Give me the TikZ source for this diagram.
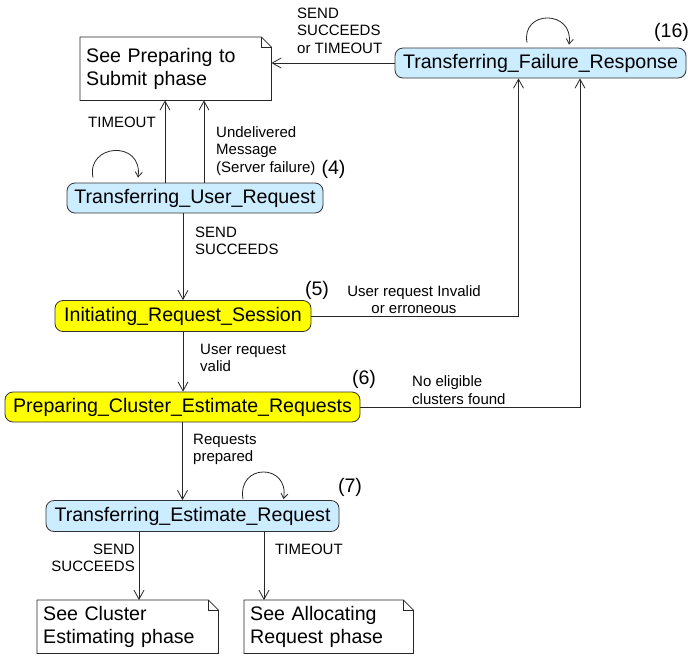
\documentclass[tikz,border=0pt]{standalone}
\usepackage{fontspec}
\setmainfont{Liberation Sans}
\usetikzlibrary{arrows.meta,calc}
\definecolor{stblue}{HTML}{CCECFF}
\definecolor{styellow}{HTML}{FFFF00}
\definecolor{edgegray}{HTML}{333333}
\newcommand\dognote[1]{%
  \draw[notedraw] (#1.north west) -- ([xshift=-10pt]#1.north east) -- ([yshift=-10pt]#1.north east) -- (#1.south east) -- (#1.south west) -- cycle;
  \draw[notedraw] ([xshift=-10pt]#1.north east) |- ([yshift=-10pt]#1.north east);}
\begin{document}
\begin{tikzpicture}[x=1pt,y=-1pt,
  bigfont/.style={font=\fontsize{19.6}{23}\selectfont},
  state/.style={draw=edgegray, line width=0.8pt, rounded corners=8pt, inner sep=0pt, minimum height=30pt, bigfont},
  bluestate/.style={state, fill=stblue},
  yelstate/.style={state, fill=styellow},
  notebox/.style={anchor=north west, fill=white, inner xsep=6pt, inner ysep=0pt, align=left, bigfont},
  notedraw/.style={draw=black!85, line width=0.8pt},
  arr/.style={draw=black!85, line width=0.8pt, -{Straight Barb[length=9pt,width=10pt,line width=0.8pt]}},
  looparr/.style={draw=black!85, line width=0.8pt, -{Straight Barb[length=5pt,width=7pt,line width=0.8pt]}},
  lbl/.style={font=\fontsize{15}{17.5}\selectfont, inner sep=0pt, align=left},
  num/.style={bigfont, inner sep=0pt}
]
\useasboundingbox (0,0) rectangle (688,656);

% notes
\node[notebox, minimum width=191pt, minimum height=63pt, text width=179pt] (sp) at (80,37) {See Preparing to\\Submit phase};
\dognote{sp}
\node[notebox, minimum width=181pt, minimum height=53pt, text width=169pt] (sc) at (37,600) {See Cluster\\Estimating phase};
\dognote{sc}
\node[notebox, minimum width=169pt, minimum height=53pt, text width=157pt] (sa) at (244,600) {See Allocating\\Request phase};
\dognote{sa}

% states
\node[bluestate, minimum width=256pt] (tur) at (195,198) {Transferring\_User\_Request};
\node[bluestate, minimum width=291pt] (tfr) at (540.5,63) {Transferring\_Failure\_Response};
\node[yelstate, minimum width=256pt, minimum height=31pt] (irs) at (183,316) {Initiating\_Request\_Session};
\node[yelstate, minimum width=355pt] (pcer) at (182.5,407) {Preparing\_Cluster\_Estimate\_Requests};
\node[bluestate, minimum width=293pt, minimum height=31pt] (ter) at (192.5,516) {Transferring\_Estimate\_Request};

% connectors
\draw[arr] ([xshift=-30pt]tur.north) -- ([xshift=-30pt]tur.north |- sp.south);
\draw[arr] ([xshift=9pt]tur.north) -- ([xshift=9pt]tur.north |- sp.south);
\draw[arr] (tfr.west) -- (sp.east |- tfr.west);
\draw[arr] (irs.north |- tur.south) -- (irs.north);
\draw[arr] (irs.east) -| ([xshift=-22pt]tfr.south);
\draw[arr] (pcer.east) -| ([xshift=39.5pt]tfr.south);
\draw[arr] (irs.south) -- (irs.south |- pcer.north);
\draw[arr] (pcer.south) -- (pcer.south |- ter.north);
\draw[arr] ([xshift=-53.5pt]ter.south) -- ([xshift=-53.5pt]ter.south |- sc.north);
\draw[arr] ([xshift=71.5pt]ter.south) -- ([xshift=71.5pt]ter.south |- sa.north);

% self loops
\draw[looparr] ([shift={(-102pt,5pt)}]tur.north) .. controls +(-7,-34) and +(5,-38) .. ([shift={(-57pt,5pt)}]tur.north);
\draw[looparr] ([shift={(-13.5pt,5pt)}]tfr.north) .. controls +(-6,-33) and +(5,-35) .. ([shift={(28.5pt,3pt)}]tfr.north);
\draw[looparr] ([shift={(50.5pt,1pt)}]ter.north) .. controls +(-6,-36) and +(6,-36) .. ([shift={(91pt,1pt)}]ter.north);

% labels
\node[lbl, anchor=west] (l1) at (297,30.5) {SEND\\SUCCEEDS\\or TIMEOUT};
\node[lbl, anchor=west] (l2) at (88,122) {TIMEOUT};
\node[lbl, anchor=west] (l3) at (216,151) {Undelivered\\Message\\(Server failure)};
\node[num] (n4) at (333.5,169) {(4)};
\node[lbl, anchor=west] (l4) at (195,241) {SEND\\SUCCEEDS};
\node[num] (n5) at (317,290) {(5)};
\node[lbl, align=center] (l5) at (414,299.5) {User request Invalid\\or erroneous};
\node[lbl, anchor=west] (l6) at (200,358) {User request\\valid};
\node[num] (n6) at (364,379) {(6)};
\node[lbl, anchor=west] (l7) at (412,390) {No eligible\\clusters found};
\node[lbl, anchor=west] (l8) at (193,449.5) {Requests\\prepared};
\node[num] (n7) at (350,487) {(7)};
\node[lbl, anchor=east, align=right] (l9) at (135,558) {SEND\\SUCCEEDS};
\node[lbl, anchor=west] (l10) at (275,549) {TIMEOUT};
\node[num] (n16) at (671.5,32) {(16)};
\end{tikzpicture}
\end{document}
